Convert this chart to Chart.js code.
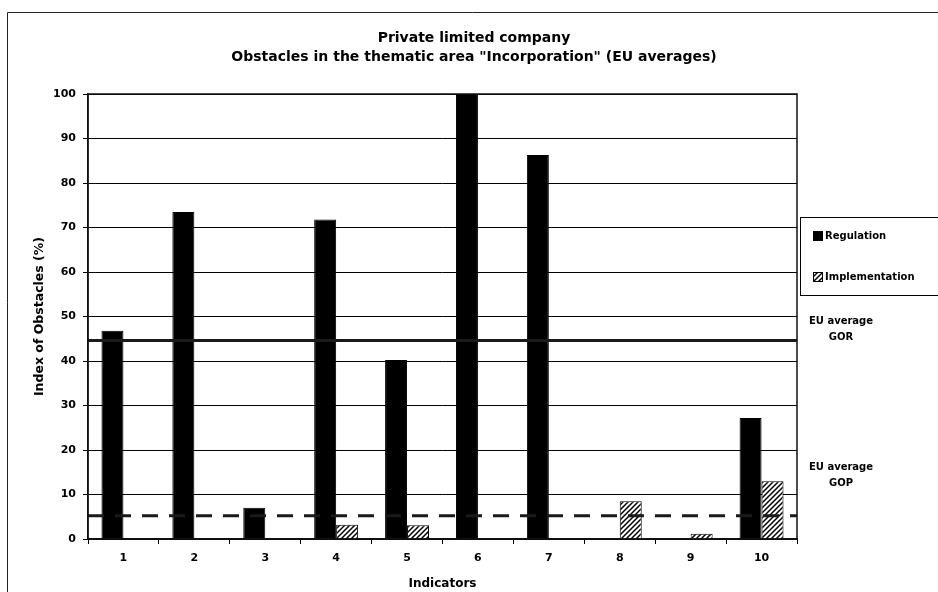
<!DOCTYPE html>
<html>
<head>
<meta charset="utf-8">
<script src="https://cdn.jsdelivr.net/npm/chart.js@4.4.0/dist/chart.umd.min.js"></script>
<style>
html, body { margin: 0; padding: 0; background: #fff; }
#wrap { width: 938px; height: 592px; position: relative; }
</style>
</head>
<body>
<div id="wrap"><canvas id="chart"></canvas></div>
<script>
// chart data
var indicators = ['1', '2', '3', '4', '5', '6', '7', '8', '9', '10'];
var regulation = [46.8, 73.5, 7, 71.8, 40.2, 100, 86.3, 0, 0, 27.2];
var implementation = [0, 0, 0, 3.2, 3.1, 0, 0, 8.5, 1.2, 13];
var gorAverage = 44.6;
var gopAverage = 5.2;
var yTicks = [0, 10, 20, 30, 40, 50, 60, 70, 80, 90, 100];

var titleLines = ['Private limited company', 'Obstacles in the thematic area "Incorporation" (EU averages)'];
var FONT = "'DejaVu Sans', Verdana, sans-serif";

// hatch for implementation bars
function makeHatch(){
	var c = document.createElement('canvas');
	c.width = 5; c.height = 5;
	var g = c.getContext('2d');
	g.fillStyle = '#fff';
	g.fillRect(0, 0, 5, 5);
	g.strokeStyle = '#000';
	g.lineWidth = 1.5;
	g.beginPath();
	g.moveTo(0, 5); g.lineTo(5, 0);
	g.moveTo(-1, 1); g.lineTo(1, -1);
	g.moveTo(4, 6); g.lineTo(6, 4);
	g.stroke();
	return g.createPattern(c, 'repeat');
}
var hatch = makeHatch();

var extras = {
	id: 'extras',
	beforeDraw: function(chart){
		var ctx = chart.ctx;
		ctx.save();
		// outer frame
		ctx.strokeStyle = '#222';
		ctx.lineWidth = 1;
		ctx.beginPath();
		ctx.moveTo(7.5, 592);
		ctx.lineTo(7.5, 12.5);
		ctx.lineTo(938, 12.5);
		ctx.stroke();
		// title
		ctx.fillStyle = '#000';
		ctx.font = 'bold 14px ' + FONT;
		ctx.textAlign = 'center';
		ctx.textBaseline = 'middle';
		ctx.fillText(titleLines[0], 474, 38);
		ctx.fillText(titleLines[1], 474, 57);
		ctx.restore();
	},
	afterDatasetsDraw: function(chart){
		var ctx = chart.ctx;
		var a = chart.chartArea;
		var y = chart.scales.y;
		var yGor = y.getPixelForValue(gorAverage);
		var yGop = y.getPixelForValue(gopAverage);
		ctx.save();
		// EU average lines
		ctx.strokeStyle = '#1a1a1a';
		ctx.lineWidth = 3;
		ctx.beginPath();
		ctx.moveTo(a.left, yGor);
		ctx.lineTo(a.right, yGor);
		ctx.stroke();
		ctx.setLineDash([16, 11]);
		ctx.beginPath();
		ctx.moveTo(a.left, yGop);
		ctx.lineTo(a.right, yGop);
		ctx.stroke();
		ctx.setLineDash([]);
		// plot frame
		ctx.lineWidth = 1.5;
		ctx.strokeStyle = '#111';
		ctx.strokeRect(a.left, a.top, a.right - a.left, a.bottom - a.top);
		// line labels
		ctx.fillStyle = '#000';
		ctx.font = 'bold 10px ' + FONT;
		ctx.textAlign = 'center';
		ctx.textBaseline = 'middle';
		ctx.fillText('EU average', 841, yGor - 19);
		ctx.fillText('GOR', 841, yGor - 3);
		ctx.fillText('EU average', 841, yGop - 48);
		ctx.fillText('GOP', 841, yGop - 32);
		// legend
		ctx.lineWidth = 1;
		ctx.strokeStyle = '#000';
		ctx.strokeRect(800.5, 217.5, 150, 78);
		var ds = chart.data.datasets;
		var rows = [236, 277];
		ctx.textAlign = 'left';
		for (var i = 0; i < ds.length; i++){
			ctx.fillStyle = ds[i].backgroundColor;
			ctx.fillRect(813, rows[i] - 5, 10, 10);
			ctx.strokeRect(813.5, rows[i] - 4.5, 9, 9);
			ctx.fillStyle = '#000';
			ctx.fillText(ds[i].label, 825, rows[i] + 0.5);
		}
		ctx.restore();
	}
};

var ctx = document.getElementById('chart').getContext('2d');
var dropChart = new Chart(ctx, {
	type: 'bar',
	data: {
		labels: indicators,
		datasets: [
			{ label: 'Regulation', data: regulation, backgroundColor: '#000', borderColor: '#000', borderWidth: 1 },
			{ label: 'Implementation', data: implementation, backgroundColor: hatch, borderColor: '#000', borderWidth: 1 }
		]
	},
	options: {
		responsive: true,
		maintainAspectRatio: false,
		animation: false,
		events: [],
		layout: { padding: { top: 94, left: 28, right: 141, bottom: 0 } },
		datasets: { bar: { categoryPercentage: 0.62, barPercentage: 1.0 } },
		plugins: {
			legend: { display: false },
			title: { display: false },
			tooltip: { enabled: false }
		},
		scales: {
			x: {
				afterFit: function(scale){ scale.height = 53; },
				grid: { display: true, drawOnChartArea: false, color: '#000', tickLength: 5, offset: true },
				border: { color: '#111', width: 1.5 },
				ticks: { color: '#000', padding: 8, font: { family: FONT, size: 11, weight: 'bold' } },
				title: { display: true, text: 'Indicators', color: '#000', padding: { top: 4, bottom: 1 }, font: { family: FONT, size: 12, weight: 'bold' } }
			},
			y: {
				min: 0,
				max: 100,
				afterFit: function(scale){ scale.width = 60; },
				afterBuildTicks: function(scale){ scale.ticks = yTicks.map(function(v){ return { value: v }; }); },
				grid: { color: '#000', lineWidth: 1, tickLength: 5 },
				border: { color: '#111', width: 1.5 },
				ticks: { color: '#000', padding: 7, font: { family: FONT, size: 11, weight: 'bold' } },
				title: { display: true, text: 'Index of Obstacles (%)', color: '#000', padding: { top: 4, bottom: 4 }, font: { family: FONT, size: 12.5, weight: 'bold' } }
			}
		}
	},
	plugins: [extras]
});
</script>
</body>
</html>
